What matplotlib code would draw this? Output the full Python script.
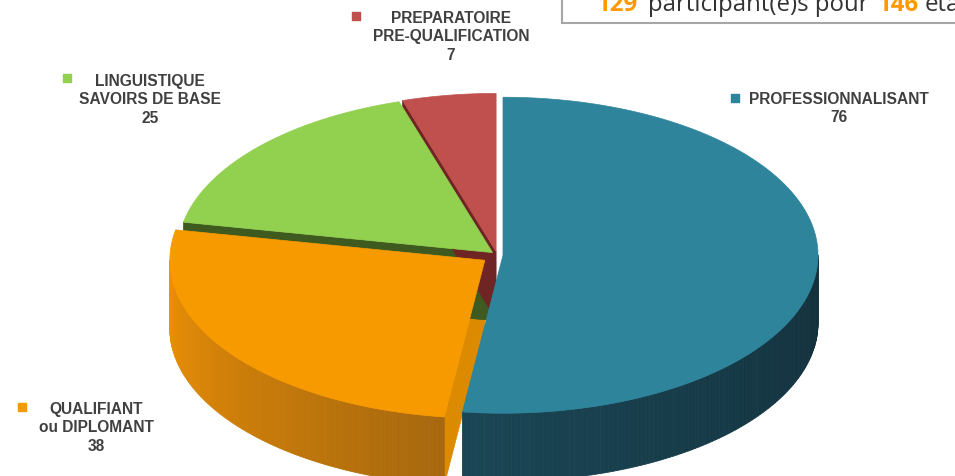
import numpy as np
import matplotlib.pyplot as plt
from matplotlib.patches import Polygon, Rectangle
from matplotlib.collections import PolyCollection
from matplotlib.colors import to_rgb

# data
labels = ["PROFESSIONNALISANT", "QUALIFIANT\nou DIPLOMANT", "LINGUISTIQUE\nSAVOIRS DE BASE", "PREPARATOIRE\nPRE-QUALIFICATION"]
values = [76, 38, 25, 7]
top_colors = ["#2e849b", "#f79a00", "#92d050", "#c0504d"]
wall_dark = ["#132f3b", "#a0640f", "#3f5a1f", "#6e2524"]
wall_light = ["#1f5566", "#ee9104", "#6f9a3a", "#9c3a37"]
cut_colors = ["#1b4555", "#dc8a00", "#3f5a1f", "#6e2524"]
explode = [6, 15, 6, 6]
participants = 129
total = sum(values)

# geometry (pixels)
cx, cy = 497, 255
rx, ry = 315, 158
depth = 68

fig = plt.figure(figsize=(9.55, 4.76), dpi=100)
ax = fig.add_axes([0, 0, 1, 1])
ax.set_xlim(0, 955)
ax.set_ylim(476, 0)
ax.axis("off")

fracs = np.array(values) / total
ends = np.cumsum(fracs) * 2 * np.pi
starts = ends - fracs * 2 * np.pi


def arc(c, t1, t2, dy=0, n=80):
    th = np.linspace(t1, t2, n)
    return np.column_stack([c[0] + rx * np.sin(th), c[1] - ry * np.cos(th) + dy])


def mix(a, b, t):
    a, b = np.array(to_rgb(a)), np.array(to_rgb(b))
    return a + (b - a) * np.clip(t, 0, 1)


centers = []
for i in range(len(values)):
    m = (starts[i] + ends[i]) / 2
    centers.append((cx + explode[i] * np.sin(m), cy - explode[i] * np.cos(m) * 0.6))

# cut faces
for i in range(len(values)):
    c = centers[i]
    for th, vis in ((starts[i], np.sin(starts[i]) < -1e-3), (ends[i], np.sin(ends[i]) > 1e-3)):
        if not vis:
            continue
        e = (c[0] + rx * np.sin(th), c[1] - ry * np.cos(th))
        quad = [c, e, (e[0], e[1] + depth), (c[0], c[1] + depth)]
        ax.add_patch(Polygon(quad, closed=True, facecolor=cut_colors[i], edgecolor=cut_colors[i], lw=0.5, zorder=1))

# outer walls (front half only)
for i in range(len(values)):
    t1 = max(starts[i], np.pi / 2)
    t2 = min(ends[i], 3 * np.pi / 2)
    if t2 <= t1:
        continue
    c = centers[i]
    th = np.linspace(t1, t2, 120)
    polys, cols = [], []
    for a, b in zip(th[:-1], th[1:]):
        top = arc(c, a, b, 0, 2)
        bot = arc(c, b, a, depth, 2)
        polys.append(np.vstack([top, bot]))
        t = ((a + b) / 2 - np.pi / 2) / np.pi
        if i == 0:
            cols.append(mix(wall_dark[i], wall_light[i], t * 1.1))
        else:
            cols.append(mix(wall_dark[i], wall_light[i], (t - 0.5) * 2))
    ax.add_collection(PolyCollection(polys, facecolors=cols, edgecolors=cols, linewidths=0.6, zorder=2))

# top faces
for i in range(len(values)):
    c = centers[i]
    pts = np.vstack([[c], arc(c, starts[i], ends[i], 0, 200)])
    ax.add_patch(Polygon(pts, closed=True, facecolor=top_colors[i], edgecolor=top_colors[i], lw=0.5, zorder=3))

# labels
label_pos = [(839, 108.5), (96, 428), (150, 100), (451, 37)]
marker_pos = [(735, 98), (22, 407), (67, 78), (356, 16)]
for i in range(len(values)):
    ax.text(*label_pos[i], f"{labels[i]}\n{values[i]}", ha="center", va="center",
            multialignment="center", fontsize=11.2, fontweight="bold",
            family="Liberation Sans", color="#404040", linespacing=1.32, zorder=5)
    ax.scatter(*marker_pos[i], marker="s", s=40, color=top_colors[i], zorder=5, clip_on=False)

# info box
ax.add_patch(Rectangle((562, -10), 420, 33, facecolor="white", edgecolor="#a6a6a6", lw=1.5, zorder=6, clip_on=True))
tk = dict(va="baseline", fontsize=17.3, family="Open Sans", zorder=7)
ax.text(597, 11, str(participants), color="#ff9900", fontweight="bold", **tk)
ax.text(648, 11, "participant(e)s pour", color="#333333", **tk)
ax.text(878, 11, str(total), color="#ff9900", fontweight="bold", **tk)
ax.text(925, 11, "établissements", color="#333333", **tk)

fig.savefig("out.png", dpi=100)
